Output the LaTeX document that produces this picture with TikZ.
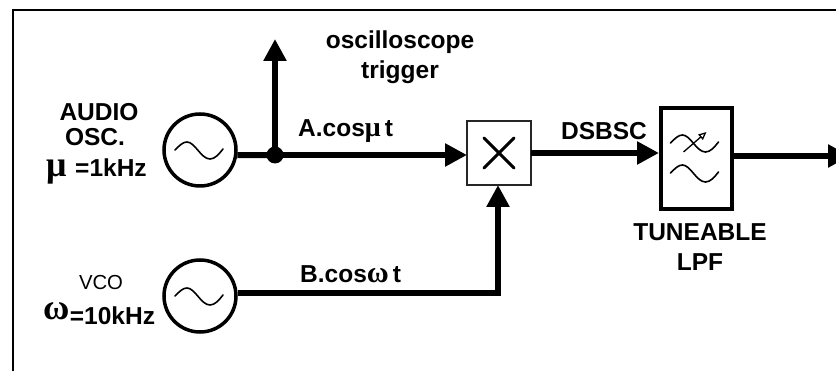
\documentclass[tikz,border=0pt]{standalone}
\usepackage{fontspec}
\setmainfont{Liberation Sans}
\newfontfamily\greekfont{Liberation Serif}
\usetikzlibrary{arrows.meta, positioning}

\begin{document}
\begin{tikzpicture}[
    x=1pt,
    y=-1pt,
    every node/.style={font=\bfseries\fontsize{24.5}{30}\selectfont},
    lbl/.style={anchor=base, inner sep=0pt},
    osc/.style={
        circle,
        draw=black,
        line width=3.5pt,
        inner sep=0pt,
        minimum size=72pt
    },
    mixer/.style={
        rectangle,
        draw=black!85,
        line width=2.5pt,
        inner sep=0pt,
        outer sep=0pt,
        minimum size=64pt
    },
    filterbox/.style={
        rectangle,
        draw=black,
        line width=4pt,
        inner sep=0pt,
        minimum width=71pt,
        minimum height=101pt
    },
    dot/.style={
        circle,
        fill=black,
        inner sep=0pt,
        minimum size=17pt
    },
    sig/.style={
        -{Triangle[length=22pt,width=22pt]},
        line width=6pt
    },
    wave/.pic={
        \draw[line width=1.6pt, line cap=round] (-25,0)
            .. controls (-20,-5) and (-17,-8) .. (-13,-8)
            .. controls (-5,-8) and (1,9) .. (10,9)
            .. controls (15,9) and (19,4) .. (23,-1);
    }
]
\useasboundingbox (0,0) rectangle (836,371);

% Blocks
\node[osc] (audio) at (200,150) {};
\node[osc, below=70.5pt of audio] (vco) {};
\node[mixer] (mult) at (499,153) {};
\node[filterbox, right=128pt of mult, yshift=-5.5pt] (lpf) {};
\node[dot] (jct) at (275,155) {};
\coordinate (trig) at (275,39);
\coordinate (out) at (850,156);

% Frame
\draw[line width=2pt] (836,10) -| (13,371);

% Block symbols
\pic at (audio) {wave};
\pic at (vco) {wave};
\pic at ([shift={(-1,-15.5)}]lpf.center) {wave};
\pic at ([shift={(-1,14.5)}]lpf.center) {wave};
\draw[-{Stealth[length=8pt,width=7pt,inset=0pt,open]}, line width=1.3pt]
    ([shift={(-13,-6.5)}]lpf.center) -- ([shift={(10,-26.5)}]lpf.center);
\draw[line width=3pt, line cap=round]
    ([shift={(-15,-15)}]mult.center) -- ([shift={(15,15)}]mult.center)
    ([shift={(15,-15)}]mult.center) -- ([shift={(-15,15)}]mult.center);

% Connectors
\draw[line width=6pt] (audio.-8) -- (jct.center);
\draw[sig] (jct.center) -- (trig);
\draw[sig] (jct.center) -- (jct.center -| mult.west);
\draw[sig] (vco.4) -| ([xshift=-1pt]mult.south);
\draw[sig] (mult.east) -- (mult.east -| lpf.west);
\draw[sig] ([yshift=2.5pt]lpf.east) -- (out);

% Labels
\node[lbl] (audiotxt) at (99,121) {AUDIO};
\node[lbl] (osctxt) at (95,146) {OSC.};
\node[lbl, anchor=base west] (mutxt) at (46,177) {{\greekfont\fontsize{36}{36}\selectfont μ}};
\node[lbl] (fmtxt) at (111,177) {=1kHz};
\node[lbl, font=\fontsize{20.3}{24}\selectfont] (vcotxt) at (101,290) {VCO};
\node[lbl, anchor=base west] (omtxt) at (43,320) {{\greekfont\fontsize{36}{36}\selectfont ω}};
\node[lbl] (fctxt) at (112.5,325) {=10kHz};
\node[align=center, inner sep=0pt] (trigtxt) at (400,57) {oscilloscope\\trigger};
\node[lbl, anchor=base west] (atxt) at (298,137) {A.cos{\greekfont\fontsize{28}{28}\selectfont μ}\hspace{4pt}t};
\node[lbl, anchor=base west] (btxt) at (300,283) {B.cos{\greekfont\fontsize{30}{30}\selectfont ω}\hspace{4pt}t};
\node[lbl] (dsbsc) at (604,140) {DSBSC};
\node[align=center, inner sep=0pt] (lpftxt) at (700,247) {TUNEABLE\\LPF};
\end{tikzpicture}
\end{document}
